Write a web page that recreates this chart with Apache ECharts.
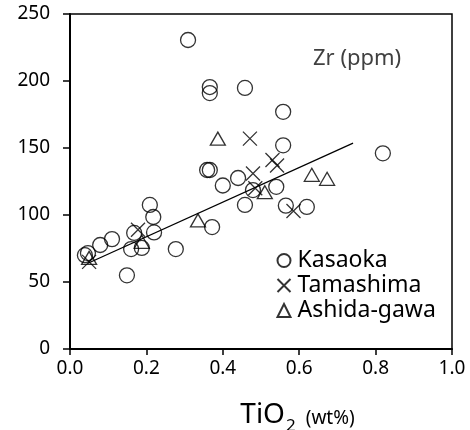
<!DOCTYPE html>
<html>
<head>
<meta charset="utf-8">
<script src="https://cdn.jsdelivr.net/npm/echarts@6/dist/echarts.min.js"></script>
<style>
  html, body { margin: 0; padding: 0; background: #fff; }
  #chart { width: 470px; height: 430px; }
</style>
</head>
<body>
<div id="chart"></div>
<script>
// TiO2 (wt%) vs Zr (ppm)
var kasaoka = [
    [0.309, 230.6], [0.366, 195.5], [0.366, 191], [0.458, 194.8], [0.558, 177],
    [0.558, 152], [0.819, 146], [0.359, 133.6], [0.366, 133.6], [0.44, 127.6],
    [0.40, 122], [0.479, 118.6], [0.458, 107.5], [0.54, 121], [0.565, 107],
    [0.62, 106], [0.372, 91], [0.039, 70], [0.047, 71.6], [0.079, 77.6],
    [0.11, 82], [0.149, 55], [0.16, 74.6], [0.168, 86.6], [0.188, 75.4],
    [0.209, 107.5], [0.218, 98.5], [0.22, 87], [0.277, 74.6]
];
var tamashima = [
    [0.05, 65], [0.178, 89], [0.471, 157], [0.479, 131], [0.53, 141],
    [0.542, 137], [0.585, 103], [0.485, 120]
];
var ashida = [
    [0.05, 68], [0.188, 80], [0.335, 96], [0.387, 157], [0.51, 117],
    [0.633, 130], [0.673, 127]
];
var trendLine = [[0.047, 64], [0.741, 153.7]];

var crossPath = 'path://M0,0L10,10M10,0L0,10';
var font = 'Noto Sans';

var chart = echarts.init(document.getElementById('chart'));
var option = {
    animation: false,
    grid: {
        left: 70, top: 14, right: 18, bottom: 81,
        outerBoundsMode: 'none',
        containLabel: false,
        show: true, borderColor: '#000', borderWidth: 1.5
    },
    legend: {
        orient: 'vertical',
        left: 275,
        top: 248,
        padding: 0,
        itemGap: 0,
        itemWidth: 13,
        itemHeight: 13,
        data: ['Kasaoka', 'Tamashima', 'Ashida-gawa'],
        textStyle: { fontFamily: font, fontSize: 23, lineHeight: 25, color: '#000', padding: [0, 0, 0, 2] }
    },
    graphic: [{
        type: 'text',
        left: 313,
        top: 48,
        style: { text: 'Zr (ppm)', fontFamily: font, fontSize: 22, fill: '#404040' }
    }],
    xAxis: {
        type: 'value',
        min: 0, max: 1, interval: 0.2,
        name: '{a|TiO}{b|2}{c|(wt%)}',
        nameLocation: 'middle',
        nameGap: 52,
        nameTextStyle: {
            padding: [0, 0, 0, 73],
            rich: {
                a: { fontFamily: font, fontSize: 28, color: '#000', lineHeight: 32, verticalAlign: 'top' },
                b: { fontFamily: font, fontSize: 17, color: '#000', lineHeight: 17, verticalAlign: 'top', padding: [17, 10, 0, 1] },
                c: { fontFamily: font, fontSize: 19, color: '#000', lineHeight: 22, verticalAlign: 'top', padding: [8, 0, 0, 0] }
            }
        },
        axisLine: { show: true, onZero: false, lineStyle: { color: '#000', width: 2 } },
        axisTick: { show: true, inside: false, length: 6, lineStyle: { color: '#000', width: 1.5 } },
        axisLabel: { fontFamily: font, fontSize: 19, color: '#000', margin: 10, formatter: function (v) { return v.toFixed(1); } },
        splitLine: { show: false }
    },
    yAxis: {
        type: 'value',
        min: 0, max: 250, interval: 50,
        axisLine: { show: true, onZero: false, lineStyle: { color: '#000', width: 2 } },
        axisTick: { show: true, inside: false, length: 7, lineStyle: { color: '#000', width: 1.5 } },
        axisLabel: { fontFamily: font, fontSize: 19, color: '#000', margin: 20 },
        splitLine: { show: false }
    },
    series: [
        {
            name: 'trend',
            type: 'line',
            data: trendLine,
            symbol: 'none',
            silent: true,
            lineStyle: { color: '#000', width: 1.3 },
            z: 1
        },
        {
            name: 'Kasaoka',
            type: 'scatter',
            data: kasaoka,
            symbol: 'circle',
            symbolSize: 15,
            itemStyle: { color: 'none', borderColor: '#000', borderWidth: 1.3 }
        },
        {
            name: 'Tamashima',
            type: 'scatter',
            data: tamashima,
            symbol: crossPath,
            symbolSize: 14,
            itemStyle: { color: 'none', borderColor: '#000', borderWidth: 1.3 }
        },
        {
            name: 'Ashida-gawa',
            type: 'scatter',
            data: ashida,
            symbol: 'triangle',
            symbolSize: [15, 13],
            itemStyle: { color: 'none', borderColor: '#000', borderWidth: 1.3 }
        }
    ]
};
chart.setOption(option);
window.addEventListener('resize', function () {
    chart.resize();
});
</script>
</body>
</html>
